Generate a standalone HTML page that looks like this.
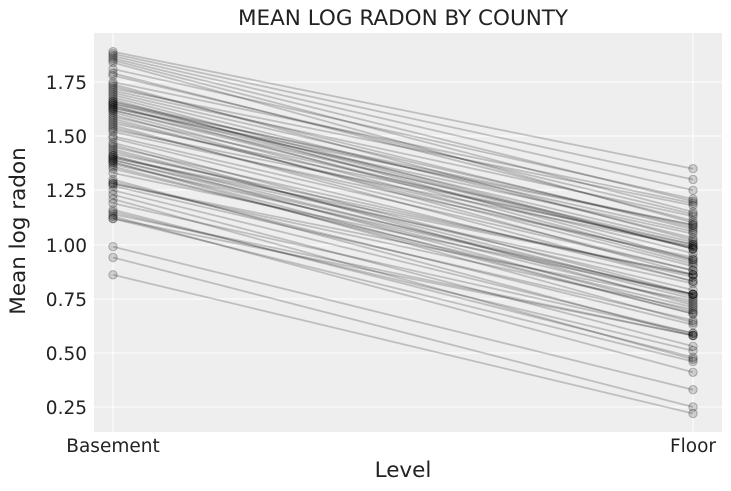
<!DOCTYPE html>
<html><head><meta charset="utf-8"><style>
html,body{margin:0;padding:0;background:#fff;}
svg{display:block;font-family:"DejaVu Sans","Liberation Sans",sans-serif;}
</style></head><body>
<svg id="s" width="731" height="491" viewBox="0 0 731 491" xmlns="http://www.w3.org/2000/svg">
<rect x="94" y="33" width="628" height="399" fill="#eeeeee"/>
<g stroke="#ffffff" stroke-width="1">
<line x1="94" x2="722" y1="407" y2="407"/>
<line x1="94" x2="722" y1="353" y2="353"/>
<line x1="94" x2="722" y1="299" y2="299"/>
<line x1="94" x2="722" y1="245" y2="245"/>
<line x1="94" x2="722" y1="190" y2="190"/>
<line x1="94" x2="722" y1="136" y2="136"/>
<line x1="94" x2="722" y1="82" y2="82"/>
<line x1="113" x2="113" y1="33" y2="432"/>
<line x1="693" x2="693" y1="33" y2="432"/>
</g>
<g id="data"></g>
<g font-size="18.5" fill="#222" text-anchor="end">
<text x="87" y="414">0.25</text>
<text x="87" y="360">0.50</text>
<text x="87" y="306">0.75</text>
<text x="87" y="252">1.00</text>
<text x="87" y="197">1.25</text>
<text x="87" y="143">1.50</text>
<text x="87" y="89">1.75</text>
</g>
<g font-size="18.5" fill="#222" text-anchor="middle">
<text x="113" y="452">Basement</text>
<text x="693" y="452">Floor</text>
</g>
<text x="403" y="477" font-size="21.5" fill="#222" text-anchor="middle">Level</text>
<text transform="translate(25,231) rotate(-90)" font-size="21.5" fill="#222" text-anchor="middle">Mean log radon</text>
<text x="403" y="25" font-size="21.5" fill="#222" text-anchor="middle">MEAN LOG RADON BY COUNTY</text>
</svg>
<script>
var b=[1.89,1.88,1.87,1.86,1.85,1.84,1.81,1.79,1.78,1.75,1.74,1.73,1.72,1.71,1.70,1.69,1.68,1.67,1.66,1.66,1.65,1.65,1.64,1.64,1.63,1.63,1.62,1.62,1.61,1.60,1.59,1.58,1.57,1.56,1.55,1.54,1.53,1.52,1.50,1.49,1.47,1.46,1.45,1.44,1.43,1.42,1.41,1.41,1.40,1.40,1.39,1.39,1.38,1.38,1.37,1.36,1.35,1.33,1.30,1.29,1.28,1.28,1.27,1.25,1.23,1.21,1.19,1.16,1.15,1.14,1.13,1.12,1.12,0.99,0.94,0.86];
var ns=[0.54,0.58,0.62,0.66,0.70,0.74,0.60,0.68,0.64,0.56,0.72,0.66];
function Y(v){return 407-(v-0.25)*216.67;}
var h='';
for(var i=0;i<b.length;i++){
 var f=b[i]-ns[i%ns.length];
 if(i==b.length-3)f=0.33;if(i==b.length-2)f=0.25;if(i==b.length-1)f=0.22;
 var y1=Y(b[i]).toFixed(1),y2=Y(f).toFixed(1);
 h+='<line x1="113" y1="'+y1+'" x2="693" y2="'+y2+'" stroke="#000" stroke-opacity="0.2" stroke-width="1.8"/>';
 h+='<circle cx="113" cy="'+y1+'" r="4.2" fill="#000" fill-opacity="0.15" stroke="#000" stroke-opacity="0.25"/>';
 h+='<circle cx="693" cy="'+y2+'" r="4.2" fill="#000" fill-opacity="0.15" stroke="#000" stroke-opacity="0.25"/>';
}
document.getElementById('data').innerHTML=h;
</script>
</body></html>
